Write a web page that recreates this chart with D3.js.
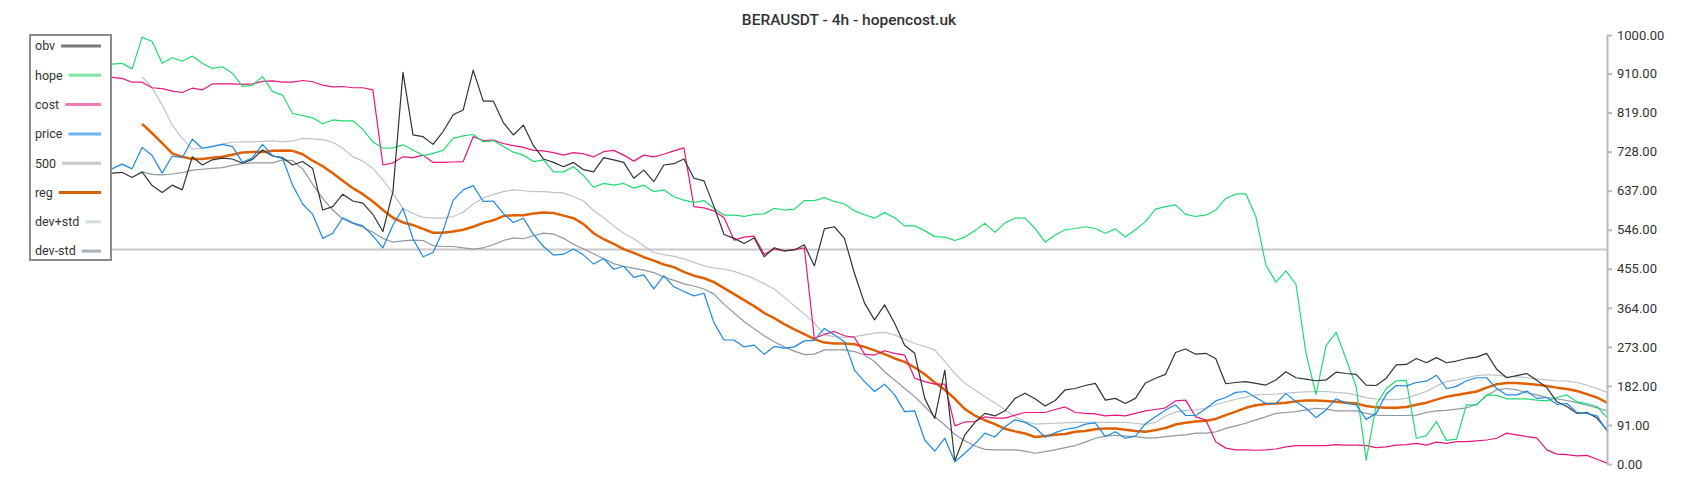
<!DOCTYPE html>
<html>
<head>
<meta charset="utf-8">
<title>BERAUSDT - 4h - hopencost.uk</title>
<script src="https://cdn.jsdelivr.net/npm/d3@7"></script>
<style>
    body { margin: 0; background: #fff; }
    #chart-area { width: 1700px; height: 500px; }
    .axis text { font-family: Roboto, "Noto Sans", sans-serif; font-size: 13px; fill: #333; }
    .axis path, .axis line { stroke: #b3bbc2; stroke-width: 2; }
    .legend text { font-family: Roboto, "Noto Sans", sans-serif; font-size: 12.5px; fill: #333; }
    .title { font-family: Roboto, "Noto Sans", sans-serif; font-size: 15.5px; font-weight: 500; fill: #333; }
</style>
</head>
<body>
<div id="chart-area"></div>
<script>

const obvValues = [
    678, 680, 668, 681, 649, 633, 650, 639, 716, 697, 709, 713, 711, 701, 710, 732, 718, 714, 697, 705, 689, 592, 600, 629, 613,
    608, 582, 542, 635, 913, 767, 763, 745, 775, 814, 825, 918, 846, 846, 796, 767, 790, 742, 711, 703, 693, 703, 686, 681, 714,
    709, 703, 666, 685, 658, 697, 700, 711, 666, 660, 600, 535, 526, 514, 527, 483, 504, 497, 499, 511, 462, 548, 553, 526, 444,
    375, 336, 371, 328, 277, 258, 153, 106, 219, 7, 68, 97, 118, 112, 124, 153, 165, 152, 135, 148, 173, 176, 183, 188, 149,
    153, 141, 153, 189, 200, 209, 260, 268, 256, 258, 246, 187, 190, 192, 188, 184, 196, 215, 201, 198, 194, 196, 214, 211, 209,
    184, 183, 200, 231, 232, 246, 236, 248, 236, 240, 246, 249, 258, 221, 201, 206, 211, 195, 178, 145, 134, 118, 120, 107, 79
];

const hopeValues = [
    932, 934, 921, 995, 985, 934, 947, 939, 951, 934, 922, 926, 911, 880, 883, 903, 868, 860, 817, 812, 807, 793, 802, 800, 800,
    780, 751, 736, 737, 744, 732, 719, 724, 731, 759, 765, 768, 751, 754, 740, 727, 720, 705, 709, 681, 681, 693, 672, 645, 654,
    650, 654, 643, 650, 635, 639, 623, 615, 610, 614, 596, 580, 580, 577, 582, 583, 596, 592, 594, 614, 614, 621, 612, 606, 590,
    581, 573, 586, 574, 555, 555, 544, 530, 529, 521, 529, 544, 561, 540, 562, 573, 573, 549, 517, 534, 546, 549, 553, 549, 538,
    548, 529, 546, 565, 594, 600, 604, 582, 577, 580, 592, 619, 629, 630, 577, 464, 424, 450, 419, 258, 162, 276, 307, 244, 180,
    9, 138, 176, 194, 195, 60, 66, 99, 55, 58, 138, 138, 161, 160, 152, 152, 152, 149, 147, 155, 161, 145, 140, 134, 108
];

const costValues = [
    901, 899, 890, 890, 877, 875, 869, 866, 876, 872, 886, 886, 886, 885, 886, 892, 893, 890, 890, 894, 891, 883, 879, 880, 877,
    877, 872, 697, 702, 716, 714, 720, 703, 703, 704, 705, 763, 754, 755, 747, 742, 738, 731, 730, 726, 720, 726, 723, 716, 728,
    731, 720, 706, 720, 716, 722, 730, 737, 600, 597, 590, 574, 522, 529, 531, 489, 501, 497, 500, 504, 293, 302, 309, 299, 295,
    256, 254, 264, 258, 254, 200, 192, 186, 186, 89, 98, 99, 110, 107, 107, 114, 120, 120, 120, 127, 133, 120, 118, 117, 112,
    114, 112, 118, 124, 127, 131, 147, 149, 110, 103, 52, 37, 33, 33, 32, 33, 35, 40, 43, 43, 43, 43, 45, 44, 44,
    43, 38, 40, 44, 45, 48, 44, 51, 48, 52, 52, 54, 56, 60, 72, 68, 64, 61, 33, 23, 22, 19, 20, 11, 2
];

const priceValues = [
    688, 699, 688, 738, 719, 678, 718, 714, 757, 736, 740, 745, 740, 703, 714, 745, 719, 712, 650, 606, 582, 526, 538, 574, 562,
    555, 532, 504, 557, 596, 525, 483, 493, 544, 615, 639, 649, 612, 613, 584, 563, 573, 535, 507, 487, 489, 501, 487, 466, 479,
    454, 461, 435, 441, 408, 439, 413, 402, 392, 398, 329, 289, 289, 273, 277, 256, 274, 270, 273, 287, 288, 316, 301, 285, 219,
    192, 169, 186, 161, 122, 124, 56, 30, 60, 5, 25, 47, 72, 63, 87, 103, 97, 85, 63, 73, 81, 84, 93, 96, 64,
    75, 60, 65, 94, 110, 126, 138, 113, 113, 129, 147, 155, 167, 169, 155, 141, 141, 164, 145, 130, 108, 126, 152, 142, 138,
    104, 118, 163, 183, 182, 190, 193, 207, 176, 181, 194, 201, 201, 176, 161, 161, 170, 153, 155, 139, 141, 120, 118, 112, 77
];

const levelValue = 500;

const regValues = [
    null, null, null, 793, 771, 748, 724, 716, 711, 711, 714, 716, 721, 726, 727, 727, 730, 731, 730, 722, 707, 694, 678, 660, 643,
    629, 612, 592, 574, 563, 557, 548, 539, 539, 542, 546, 553, 562, 568, 578, 580, 580, 584, 586, 585, 579, 573, 559, 538, 524,
    513, 501, 492, 482, 474, 465, 459, 448, 439, 433, 424, 410, 396, 382, 368, 352, 340, 326, 314, 303, 291, 283, 281, 281, 279,
    273, 265, 256, 246, 238, 225, 209, 190, 173, 152, 128, 113, 102, 93, 82, 76, 71, 63, 65, 68, 70, 75, 77, 81, 83,
    83, 80, 77, 75, 79, 84, 92, 96, 99, 101, 105, 114, 122, 131, 137, 140, 141, 143, 146, 148, 148, 147, 145, 143, 141,
    135, 132, 131, 131, 133, 138, 143, 150, 157, 161, 165, 169, 178, 186, 189, 189, 187, 185, 182, 178, 175, 170, 163, 155, 143
];

const devUpValues = [
    null, null, null, 903, 877, 837, 790, 759, 734, 736, 741, 746, 750, 751, 751, 752, 753, 751, 753, 759, 758, 756, 750, 736, 716,
    706, 689, 662, 631, 596, 584, 575, 573, 573, 577, 587, 606, 620, 628, 635, 639, 637, 635, 635, 633, 632, 623, 613, 591, 574,
    555, 538, 525, 509, 493, 488, 484, 478, 470, 462, 457, 454, 449, 441, 432, 420, 408, 389, 369, 350, 329, 301, 297, 295, 297,
    301, 305, 307, 301, 291, 281, 274, 266, 239, 211, 188, 173, 157, 143, 126, 110, 99, 93, 94, 95, 96, 97, 97, 97, 97,
    97, 97, 95, 92, 97, 112, 121, 125, 126, 130, 138, 145, 151, 156, 161, 162, 163, 165, 167, 168, 169, 169, 167, 165, 161,
    154, 152, 150, 150, 153, 161, 169, 182, 192, 196, 201, 206, 208, 207, 204, 203, 201, 198, 196, 194, 193, 190, 184, 176, 167
];

const devDownValues = [
    null, null, null, 681, 675, 674, 676, 679, 685, 687, 689, 691, 696, 700, 702, 702, 702, 709, 707, 688, 652, 619, 592, 571, 561,
    552, 540, 526, 517, 520, 522, 521, 509, 507, 507, 504, 501, 504, 511, 521, 527, 525, 532, 538, 536, 526, 512, 501, 490, 479,
    467, 461, 456, 452, 446, 436, 428, 420, 415, 408, 396, 372, 352, 332, 315, 299, 285, 273, 263, 255, 256, 266, 266, 266, 262,
    254, 239, 215, 196, 176, 157, 134, 110, 91, 69, 54, 42, 34, 33, 33, 33, 30, 25, 29, 33, 38, 43, 51, 60, 65,
    67, 65, 64, 61, 61, 64, 66, 68, 72, 72, 75, 83, 89, 95, 103, 110, 118, 120, 122, 126, 130, 128, 124, 124, 124,
    118, 114, 113, 113, 113, 114, 120, 124, 125, 128, 131, 139, 159, 173, 176, 173, 166, 161, 155, 152, 148, 143, 137, 131, 124
];

const tickValues = [0, 91, 182, 273, 364, 455, 546, 637, 728, 819, 910, 1000];
const legendNames = ["obv", "hope", "cost", "price", "500", "reg", "dev+std", "dev-std"];
const chartTitle = "BERAUSDT - 4h - hopencost.uk";


class HopeCostChart {

    constructor(parentElement) {
        this.parentElement = parentElement;
        this.count = priceValues.length;

        // draw order: bands first, raw series on top
        this.series = [
            {name: "dev+std", values: devUpValues,   color: "#bcc4ca", width: 1.2},
            {name: "dev-std", values: devDownValues, color: "#8d99a2", width: 1.2},
            {name: "reg",     values: regValues,     color: "#e06000", width: 2.5},
            {name: "cost",    values: costValues,    color: "#e8157e", width: 1.2},
            {name: "hope",    values: hopeValues,    color: "#1fdc72", width: 1.2},
            {name: "obv",     values: obvValues,     color: "#333333", width: 1.2},
            {name: "price",   values: priceValues,   color: "#1e88e5", width: 1.2}
        ];

        this.legendColors = {
            "obv": "#7a7a7a", "hope": "#7ee8a8", "cost": "#f07ab5", "price": "#6fb2f0",
            "500": "#c8c8c8", "reg": "#d96000", "dev+std": "#d6dbdf", "dev-std": "#a7b2b9"
        };

        this.initVis();
    }

    initVis() {
        let vis = this;

        vis.width = 1700;
        vis.height = 500;

        vis.svg = d3.select("#" + vis.parentElement).append("svg")
            .attr("width", vis.width)
            .attr("height", vis.height);

        // Scales and axis
        vis.x = d3.scaleLinear()
            .domain([0, vis.count - 1])
            .range([112, 1607]);

        vis.y = d3.scaleLinear()
            .domain([0, 1000])
            .range([464, 35]);

        vis.yAxis = d3.axisRight(vis.y)
            .tickValues(tickValues)
            .tickFormat(d3.format(".2f"))
            .tickSize(5)
            .tickSizeOuter(0)
            .tickPadding(5);

        vis.svg.append("text")
            .attr("class", "title")
            .attr("x", 849)
            .attr("y", 25)
            .attr("text-anchor", "middle")
            .text(chartTitle);

        // 500 level line
        vis.svg.append("line")
            .attr("x1", vis.x(0))
            .attr("x2", vis.x(vis.count - 1))
            .attr("y1", vis.y(levelValue))
            .attr("y2", vis.y(levelValue))
            .attr("stroke", "#c8c8c8")
            .attr("stroke-width", 2);

        vis.line = d3.line()
            .defined(d => d.v !== null)
            .x(d => vis.x(d.i))
            .y(d => vis.y(d.v));

        vis.series.forEach(function(s) {
            let pts = s.values.map((v, i) => ({i: i, v: v}));
            vis.svg.append("path")
                .datum(pts)
                .attr("fill", "none")
                .attr("stroke", s.color)
                .attr("stroke-width", s.width)
                .attr("stroke-linejoin", "round")
                .attr("d", vis.line);
        });

        vis.svg.append("g")
            .attr("class", "y-axis axis")
            .attr("transform", "translate(" + vis.x(vis.count - 1) + ",0)")
            .call(vis.yAxis);

        vis.drawLegend();
    }

    drawLegend() {
        let vis = this;

        let legend = vis.svg.append("g").attr("class", "legend");

        legend.append("rect")
            .attr("x", 30)
            .attr("y", 35)
            .attr("width", 81)
            .attr("height", 225)
            .attr("fill", "#fff")
            .attr("stroke", "#8c8c8c")
            .attr("stroke-width", 2);

        legendNames.forEach(function(name, i) {
            let cy = 46 + i * 29.3;
            let label = legend.append("text")
                .attr("x", 35)
                .attr("y", cy)
                .attr("dy", "0.35em")
                .text(name);
            let tw = label.node().getComputedTextLength();
            legend.append("line")
                .attr("x1", 35 + tw + 6)
                .attr("x2", 101)
                .attr("y1", cy)
                .attr("y2", cy)
                .attr("stroke", vis.legendColors[name])
                .attr("stroke-width", 3);
        });
    }
}

new HopeCostChart("chart-area");

</script>
</body>
</html>
